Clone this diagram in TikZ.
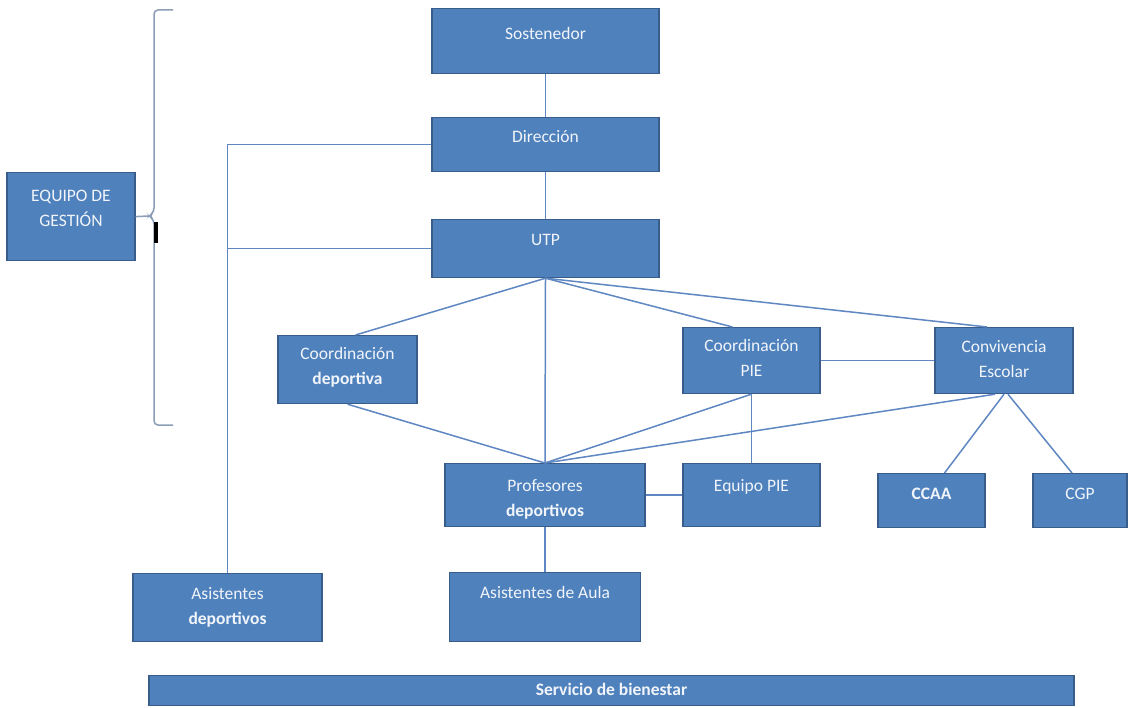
\documentclass[tikz,border=0pt]{standalone}
\usepackage{fontspec}
\setmainfont{Carlito}

\definecolor{boxfill}{HTML}{4F81BD}
\definecolor{boxedge}{HTML}{385D8A}
\definecolor{linkblue}{HTML}{5F87C2}
\definecolor{bracegrey}{HTML}{8C9DB8}

\tikzset{
    orgbox/.style n args = {3}{
        draw=boxedge,
        line width=1.2pt,
        fill=boxfill,
        text=white!92!boxfill,
        font=\fontsize{17.5}{25}\selectfont,
        align=center,
        anchor=north,
        inner sep=0pt,
        minimum width=#1,
        text height=#2,
        text depth=#3
    },
    link/.style = {
        linkblue,
        line width=1.5pt
    },
    brace/.style = {
        bracegrey,
        line width=1.5pt,
        rounded corners=4pt
    }
}

\begin{document}
\begin{tikzpicture}[x=1pt, y=-1pt]
    \path[use as bounding box, fill=white] (0,0) rectangle (1131,708);

    % Draw all boxes
    \node[orgbox={227pt}{31pt}{34pt}] (sost) at (545.5,8) {Sostenedor};
    \node[orgbox={227pt}{25pt}{29pt}] (dir) at (545.5,117) {Dirección};
    \node[orgbox={227pt}{26pt}{32pt}] (utp) at (545.5,219) {UTP};
    \node[orgbox={128pt}{54pt}{34pt}] (equipo) at (71,172) {EQUIPO DE\\GESTIÓN};

    \node[orgbox={139pt}{49pt}{19pt}] (coorddep) at (347.5,335) {Coordinación\\\textbf{deportiva}};
    \node[orgbox={137pt}{49pt}{17pt}] (coordpie) at (751.5,327) {Coordinación\\PIE};
    \node[orgbox={138pt}{50pt}{16pt}] (conviv) at (1004,327) {Convivencia\\Escolar};

    \node[orgbox={200pt}{53pt}{10pt}] (prof) at (545,463) {Profesores\\\textbf{deportivos}};
    \node[orgbox={137pt}{28pt}{35pt}] (equipie) at (751.5,463) {Equipo PIE};
    \node[orgbox={107pt}{26pt}{28pt}] (ccaa) at (931.5,473) {\textbf{CCAA}};
    \node[orgbox={94pt}{26pt}{28pt}] (cgp) at (1080,473) {CGP};

    \node[orgbox={189pt}{51pt}{17pt}] (asistdep) at (227.5,573) {Asistentes\\\textbf{deportivos}};
    \node[orgbox={191pt}{26pt}{43pt}] (asistaula) at (545,572) {Asistentes de Aula};

    \node[orgbox={925pt}{20pt}{10pt}] (bienestar) at (611.5,675) {\textbf{Servicio de bienestar}};

    % Draw brace
    \coordinate (tip) at (149,216);
    \draw[brace] (173,10) -- (154,10) -- (154,212) -- (tip) -- (154,220) -- (154,425) -- (173,425);
    \fill[black] (154,222) rectangle (158,243);
    \draw[bracegrey, line width=1.5pt] (equipo.east) -- (tip);

    % Draw connections
    \draw[link] (sost) -- (dir);
    \draw[link] (dir) -- (utp);
    \draw[link] (dir.west) -| (asistdep.north);
    \draw[link] (utp.west) -| (asistdep.north);

    \draw[link] (utp.south) -- ([xshift=8pt]coorddep.north);
    \draw[link] (utp.south) -- (prof.north);
    \draw[link] (utp.south) -- ([xshift=-19pt]coordpie.north);
    \draw[link] (utp.south) -- ([xshift=-17pt]conviv.north);

    \draw[link] (coorddep.south) -- (prof.north);
    \draw[link] (coordpie.south) -- (prof.north);
    \draw[link] ([xshift=-9pt]conviv.south) -- (prof.north);
    \draw[link] (coordpie.south) -- (equipie.north);
    \draw[link] (coordpie.east) -- (conviv.west);
    \draw[link] (prof.east) -- (equipie.west);

    \draw[link] (conviv.south) -- ([xshift=13pt]ccaa.north);
    \draw[link] ([xshift=4pt]conviv.south) -- ([xshift=-8pt]cgp.north);
    \draw[link] (prof.south) -- (asistaula.north);
\end{tikzpicture}
\end{document}
